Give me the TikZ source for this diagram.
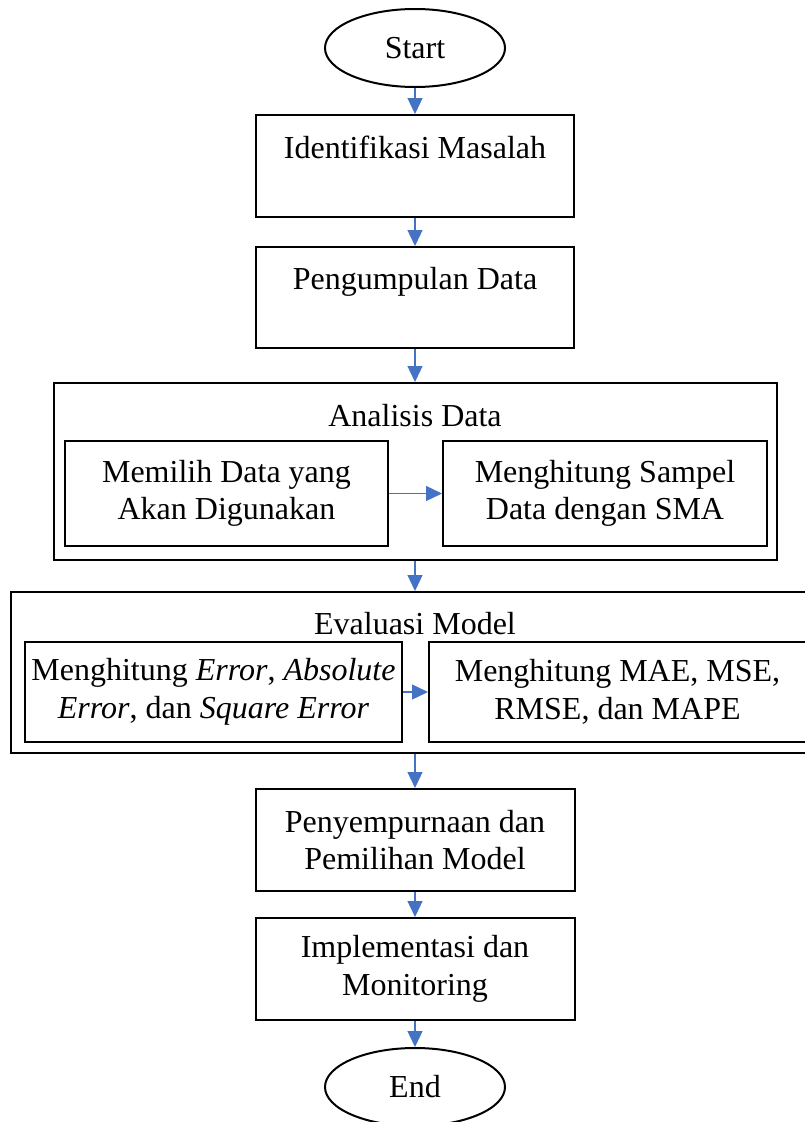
\documentclass[tikz,border=0pt]{standalone}
\usepackage{fontspec}
\setmainfont{Liberation Serif}
\usetikzlibrary{arrows.meta,positioning,shapes.geometric}

\definecolor{panahbiru}{HTML}{4472C4}
\tikzset{
  proses/.style={draw, line width=2pt, rectangle, align=center, inner sep=0pt},
  terminal/.style={draw, line width=2pt, ellipse, minimum width=180pt, minimum height=78pt, inner sep=0pt},
  judul/.style={inner sep=0pt},
  panah/.style={draw=panahbiru, line width=1.3pt, -{Triangle[width=15pt,length=16pt,fill=panahbiru]}},
}

\begin{document}
\begin{tikzpicture}[x=1pt,y=-1pt,font=\fontsize{32}{37.5}\selectfont]
\useasboundingbox (0,0) rectangle (805,1122);
%\draw[help lines] (0,0) grid[step=50] (805,1122);
\node[terminal] (start) at (415,48) {Start};
\node[proses, minimum width=318pt, minimum height=102pt] (identifikasi) at (415,166) {Identifikasi Masalah\\ \mbox{}};
\node[proses, minimum width=318pt, minimum height=101pt] (pengumpulan) at (415,297.5) {Pengumpulan Data\\ \mbox{}};

% analisis data
\node[proses, minimum width=723pt, minimum height=177pt] (analisis) at (415,471.5) {};
\node[judul] (jdlanalisis) at (415,416) {Analisis Data};
\node[proses, minimum width=323pt, minimum height=105pt] (memilih) at (226.5,493.5) {Memilih Data yang\\Akan Digunakan};
\node[proses, minimum width=324pt, minimum height=105pt] (sampel) at (605,493.5) {Menghitung Sampel\\Data dengan SMA};

% evaluasi model
\node[proses, minimum width=808pt, minimum height=161pt] (evaluasi) at (415,672.5) {};
\node[judul] (jdlevaluasi) at (415,624) {Evaluasi Model};
\node[proses, minimum width=377pt, minimum height=100pt] (error) at (213.5,692) {Menghitung \textit{Error}, \textit{Absolute}\\\textit{Error}, dan \textit{Square Error}};
\node[proses, minimum width=377pt, minimum height=100pt] (mae) at (617.5,692) {Menghitung MAE, MSE,\\RMSE, dan MAPE};

\node[proses, minimum width=319pt, minimum height=102pt] (penyempurnaan) at (415,840) {Penyempurnaan dan\\Pemilihan Model};
\node[proses, minimum width=319pt, minimum height=102pt] (implementasi) at (415,969) {Implementasi dan\\Monitoring};
\node[terminal] (end) at (415,1087) {End};

\draw[panah] (start) -- (identifikasi);
\draw[panah] (identifikasi) -- (pengumpulan);
\draw[panah] (pengumpulan) -- (analisis);
\draw[panah] (memilih) -- (sampel);
\draw[panah] (analisis) -- (evaluasi);
\draw[panah] (error) -- (mae);
\draw[panah] (evaluasi) -- (penyempurnaan);
\draw[panah] (penyempurnaan) -- (implementasi);
\draw[panah] (implementasi) -- (end);
\end{tikzpicture}
\end{document}
